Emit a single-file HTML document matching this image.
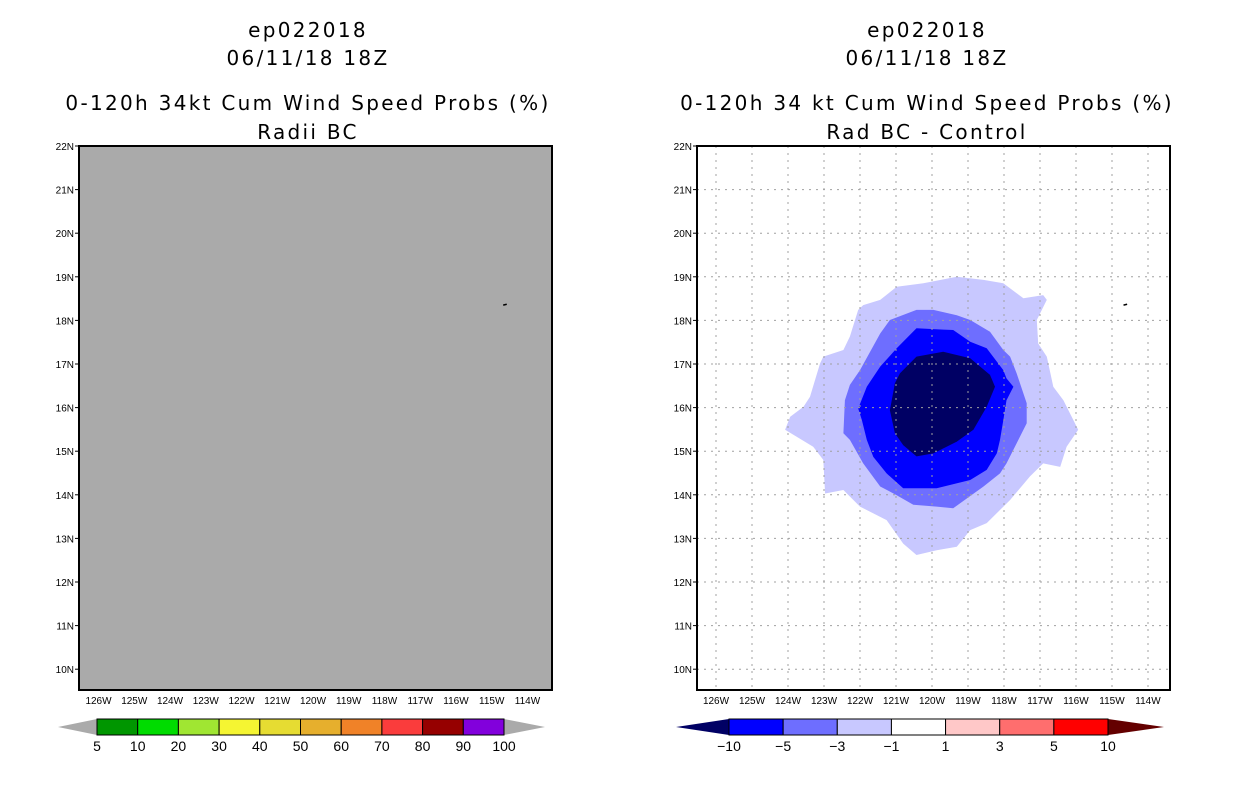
<!DOCTYPE html>
<html><head><meta charset="utf-8">
<style>
html,body{margin:0;padding:0;background:#fff;}
svg{display:block;font-family:"Liberation Sans",sans-serif;}
.title{font-family:"DejaVu Sans","Liberation Sans",sans-serif;font-size:20px;fill:#000;letter-spacing:2.3px;}
.tick{font-size:10px;fill:#000;}
.cb{font-size:14px;fill:#000;}
</style></head>
<body>
<svg id="chart" width="1236" height="800" viewBox="0 0 1236 800">
<g>
<text class="title" x="308" y="37" text-anchor="middle">ep022018</text>
<text class="title" x="308" y="65" text-anchor="middle">06/11/18 18Z</text>
<text class="title" x="308" y="110" text-anchor="middle">0-120h 34kt Cum Wind Speed Probs (%)</text>
<text class="title" x="308" y="139" text-anchor="middle">Radii BC</text>
</g>
<g>
<text class="title" x="927" y="37" text-anchor="middle">ep022018</text>
<text class="title" x="927" y="65" text-anchor="middle">06/11/18 18Z</text>
<text class="title" x="927" y="110" text-anchor="middle">0-120h 34 kt Cum Wind Speed Probs (%)</text>
<text class="title" x="927" y="139" text-anchor="middle">Rad BC - Control</text>
</g>
<g id="left"></g>
<g id="right"></g>
<g id="cbl"></g>
<g id="cbr"></g>
</svg>
<script>
const lats=[22,21,20,19,18,17,16,15,14,13,12,11,10];
const lons=[126,125,124,123,122,121,120,119,118,117,116,115,114];
const lightPoly=[[-124.08,15.49],[-123.94,15.79],[-123.57,16.02],[-123.39,16.25],[-123.11,17.01],[-123.02,17.17],[-122.46,17.32],[-122.28,17.63],[-122.05,18.24],[-121.91,18.35],[-121.44,18.47],[-120.98,18.77],[-120.24,18.85],[-119.31,19.0],[-118.57,18.93],[-118.02,18.85],[-117.46,18.51],[-116.91,18.58],[-116.81,18.47],[-117.09,18.01],[-117.05,17.47],[-116.81,17.17],[-116.63,16.48],[-116.35,16.17],[-115.94,15.49],[-116.26,15.1],[-116.44,14.64],[-116.91,14.72],[-117.28,14.42],[-117.83,13.88],[-118.48,13.35],[-118.94,13.19],[-119.31,12.81],[-119.87,12.73],[-120.43,12.62],[-120.80,12.88],[-121.26,13.42],[-122.0,13.73],[-122.46,14.11],[-122.97,14.03],[-123.02,14.8],[-123.30,15.1]];
const medPoly=[[-122.46,15.41],[-122.42,16.17],[-122.28,16.52],[-122.0,16.86],[-121.44,17.70],[-121.17,18.01],[-120.43,18.24],[-119.96,18.24],[-119.31,18.12],[-118.94,18.01],[-118.39,17.74],[-118.02,17.32],[-117.83,17.17],[-117.65,16.79],[-117.37,16.10],[-117.37,15.64],[-117.65,15.18],[-117.93,14.72],[-118.11,14.49],[-118.57,14.19],[-119.41,13.69],[-119.87,13.73],[-120.52,13.77],[-120.98,13.99],[-121.44,14.19],[-121.91,14.72],[-122.28,15.26]];
const bluePoly=[[-122.05,15.98],[-121.81,16.48],[-121.44,16.94],[-120.98,17.36],[-120.43,17.82],[-119.69,17.79],[-119.41,17.78],[-118.94,17.51],[-118.48,17.36],[-118.02,16.86],[-117.93,16.67],[-117.74,16.48],[-117.93,16.17],[-118.02,15.71],[-118.11,15.26],[-118.20,14.95],[-118.48,14.57],[-118.94,14.34],[-119.87,14.15],[-120.80,14.15],[-121.26,14.49],[-121.63,14.87],[-121.81,15.26],[-121.95,15.72]];
const darkPoly=[[-121.17,15.94],[-121.03,16.56],[-120.89,16.79],[-120.43,17.17],[-119.69,17.28],[-118.94,17.13],[-118.39,16.75],[-118.25,16.48],[-118.48,16.02],[-118.85,15.49],[-119.31,15.22],[-119.96,14.95],[-120.43,14.88],[-120.80,15.14],[-121.03,15.41]];
const probLabels=["5","10","20","30","40","50","60","70","80","90","100"];
const probColors=["#009600","#00dc00","#a0e632","#f5f532","#e6dc32","#e6af2d","#f08228","#fa3c3c","#960000","#8200dc"];
const diffLabels=["-10","-5","-3","-1","1","3","5","10"];
const diffColors=["#0000ff","#6e6eff","#c8c8ff","#ffffff","#ffc8c8","#ff6e6e","#ff0000"];

const NS="http://www.w3.org/2000/svg";
function mk(tag,attrs,parent){const e=document.createElementNS(NS,tag);for(const k in attrs)e.setAttribute(k,attrs[k]);parent.appendChild(e);return e;}
const plotTop=146,plotBot=690;
function yOf(lat){return plotTop+(22-lat)*43.6;}
function drawPanel(id,x0,x1,lon126x,dlon,bg,isDiff){
  const g=document.getElementById(id);
  const X=l=>lon126x+(126-Math.abs(l))*dlon;
  const r=mk('rect',{x:x0,y:plotTop,width:x1-x0,height:plotBot-plotTop,fill:bg},g);
  
  
  if(isDiff){
    const polys=[[lightPoly,'#c8c8ff','contour-minus1'],[medPoly,'#6e6eff','contour-minus3'],[bluePoly,'#0000ff','contour-minus5'],[darkPoly,'#000064','contour-minus10']];
    polys.forEach(p=>{
      const pts=p[0].map(q=>X(q[0]).toFixed(1)+','+yOf(q[1]).toFixed(1)).join(' ');
      const e=mk('polygon',{points:pts,fill:p[1]},g);
      
      
    });
    lons.forEach(l=>{const e=mk('line',{x1:X(l),x2:X(l),y1:plotTop,y2:plotBot,stroke:'#a0a0a0','stroke-width':1,'stroke-dasharray':'2,5'},g);
      
      });
    lats.forEach(l=>{const e=mk('line',{x1:x0,x2:x1,y1:yOf(l),y2:yOf(l),stroke:'#a0a0a0','stroke-width':1,'stroke-dasharray':'2,5'},g);
      
      });
  }
  const m=mk('line',{x1:X(-114.68),x2:X(-114.58),y1:yOf(18.35),y2:yOf(18.37),stroke:'#000','stroke-width':1.5},g);
  
  
  const f=mk('rect',{x:x0,y:plotTop,width:x1-x0,height:plotBot-plotTop,fill:'none',stroke:'#000','stroke-width':2},g);
  
  
  lats.forEach(l=>{
    const t=mk('line',{x1:x0-4,x2:x0,y1:yOf(l),y2:yOf(l),stroke:'#000'},g);
    
    
    const tx=mk('text',{x:x0-5,y:yOf(l)+4,'text-anchor':'end',class:'tick'},g);
    tx.textContent=l+'N';
    
    
  });
  lons.forEach(l=>{
    const tx=mk('text',{x:X(l),y:704,'text-anchor':'middle',class:'tick'},g);
    tx.textContent=l+'W';
    
    
  });
}
drawPanel('left',79,552,98.5,35.75,'#aaaaaa',false);
drawPanel('right',697,1170,716,36,'#ffffff',true);

function colorbar(id,x0,x1,tl,tr,colors,labels,lc,rc){
  const g=document.getElementById(id);
  const y0=719,y1=735,ym=727,w=(x1-x0)/colors.length;
  const a=mk('polygon',{points:`${tl},${ym} ${x0},${y0} ${x0},${y1}`,fill:lc},g);
  
  
  const b=mk('polygon',{points:`${tr},${ym} ${x1},${y0} ${x1},${y1}`,fill:rc},g);
  
  
  colors.forEach((c,i)=>{
    const r=mk('rect',{x:x0+i*w,y:y0,width:w,height:y1-y0,fill:c,stroke:'#000','stroke-width':1},g);
    
    
  });
  labels.forEach((s,i)=>{
    const t=mk('text',{x:x0+i*w,y:751,'text-anchor':'middle',class:'cb'},g);
    t.textContent=s.replace('-','\u2212');
    
    
  });
}
colorbar('cbl',97,504,58,545,probColors,probLabels,'#aaaaaa','#aaaaaa');
colorbar('cbr',729,1108,676,1164,diffColors,diffLabels,'#000064','#640000');
</script>
</body></html>
